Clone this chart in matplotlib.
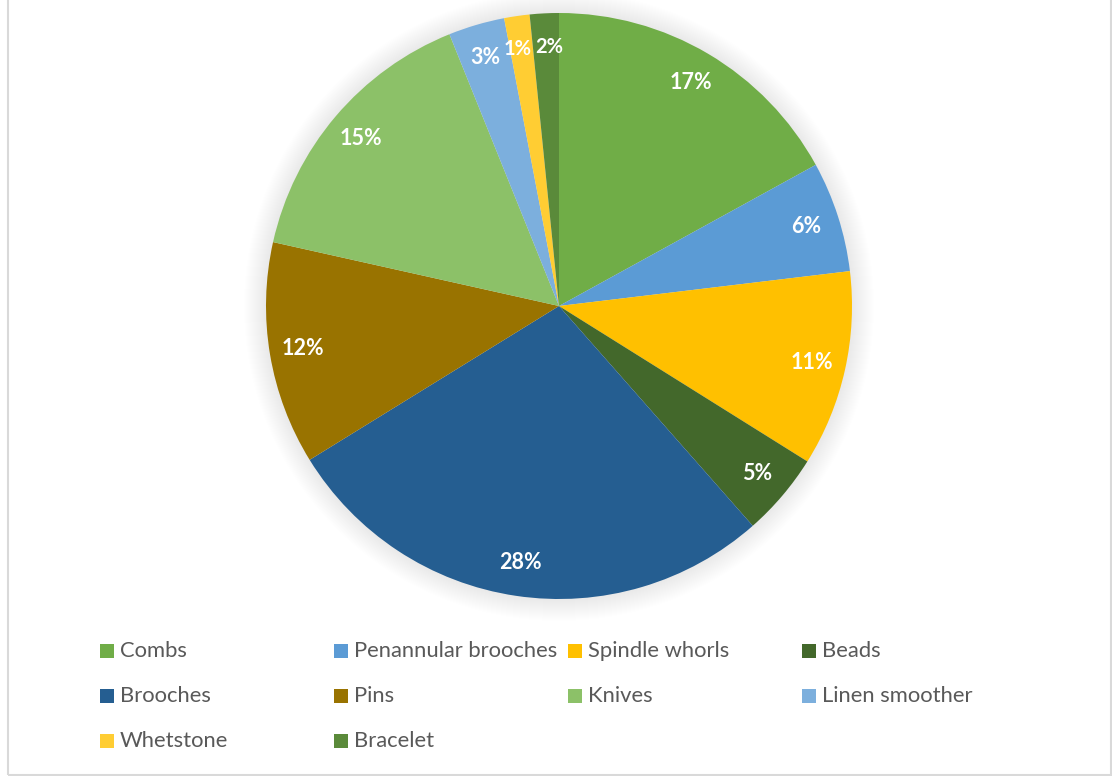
import matplotlib
matplotlib.use("Agg")
import matplotlib.pyplot as plt
from matplotlib.patches import Circle, Rectangle

categories = ["Combs", "Penannular brooches", "Spindle whorls", "Beads",
              "Brooches", "Pins", "Knives", "Linen smoother",
              "Whetstone", "Bracelet"]
shares = [17.0, 6.1, 10.8, 4.6, 27.7, 12.3, 15.4, 3.1, 1.4, 1.6]
colors = ["#70AD47", "#5B9BD5", "#FFC000", "#43682B", "#255E91",
          "#997300", "#8CC168", "#7CAFDD", "#FFCD33", "#5A8A3A"]

W, H = 1112, 776
fig = plt.figure(figsize=(W / 100, H / 100), dpi=100)
ax = fig.add_axes([0, 0, 1, 1])

cx, cy, R = 559, H - 306, 293

# soft outer shadow around the pie
n = 22
for i in range(n, 0, -1):
    ax.add_patch(Circle((cx, cy), R + i, color="black", alpha=0.0055,
                        lw=0, zorder=1))

total = sum(shares)
wedges, texts, autotexts = ax.pie(
    shares, colors=colors, startangle=90, counterclock=False,
    center=(cx, cy), radius=R,
    autopct=lambda p: f"{round(p * total / 100):d}%", pctdistance=0.885,
    textprops=dict(color="white", fontsize=15.5, fontweight="bold",
                   family="Lato"),
    wedgeprops=dict(linewidth=0, zorder=2), frame=True)
for t in autotexts:
    t.set_zorder(5)

# spread the two narrowest labels a little so they read apart
for idx, dx in ((8, -4), (9, 3)):
    x, y = autotexts[idx].get_position()
    autotexts[idx].set_position((x + dx, y))
    autotexts[idx].set_fontsize(14.5)

ax.set_xlim(0, W)
ax.set_ylim(0, H)
ax.set_aspect("equal")
ax.axis("off")

# legend laid out in four columns
col_x = [100, 334, 568, 802]
row_y = [651, 696, 741]
sq = 14
for i, (name, c) in enumerate(zip(categories, colors)):
    x = col_x[i % 4]
    y = H - row_y[i // 4]
    ax.add_patch(Rectangle((x, y - sq / 2), sq, sq, color=c, lw=0,
                           zorder=3))
    ax.text(x + 20, y, name, ha="left", va="center", fontsize=15.8,
            color="#595959", family="Lato", zorder=3)

# chart area border
ax.add_patch(Rectangle((7.5, 1.5), W - 9, H + 10, fill=False,
                       edgecolor="#D9D9D9", lw=1.5, zorder=6))

fig.savefig("out.png", dpi=100, facecolor="white")
